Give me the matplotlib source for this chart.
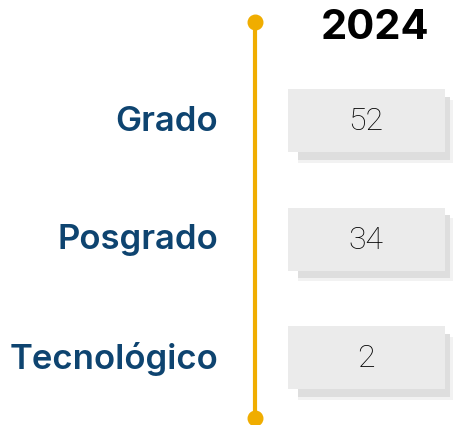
import matplotlib.pyplot as plt
from matplotlib.patches import Rectangle

year = '2024'
categories = ['Grado', 'Posgrado', 'Tecnológico']
values = [52, 34, 2]

fig = plt.figure(figsize=(4.53, 4.25), dpi=100)
ax = fig.add_axes([0, 0, 1, 1])
ax.set_xlim(0, 453)
ax.set_ylim(425, 0)
ax.axis('off')

gold = '#f0ad00'
blue = '#0e4470'

# timeline
ax.plot([255, 255], [22, 418], color=gold, lw=3, solid_capstyle='butt', zorder=1)
ax.scatter([255, 255], [22, 418], s=110, color=gold, zorder=2)

ax.text(375, 28, year, ha='center', va='center', fontsize=30,
        fontweight='bold', family='Inter', color='black')

y0, step = 120.5, 118.5
for i, (cat, val) in enumerate(zip(categories, values)):
    yc = y0 + i * step
    # shadow
    ax.add_patch(Rectangle((298, yc - 21), 157, 63, color='#f2f2f2', lw=0, zorder=1))
    ax.add_patch(Rectangle((298, yc - 24), 152, 63, color='#dedede', lw=0, zorder=2))
    ax.add_patch(Rectangle((288, yc - 31.5), 157, 63, color='#ebebeb', lw=0, zorder=3))
    ax.text(366, yc + 1, str(val), ha='center', va='center', fontsize=23,
            family='Roboto', fontweight='light', color='black', zorder=4)
    ax.text(218, yc + 1, cat, ha='right', va='center', fontsize=25,
            family='Inter', fontweight='semibold', color=blue)

fig.savefig('out.png', dpi=100)
